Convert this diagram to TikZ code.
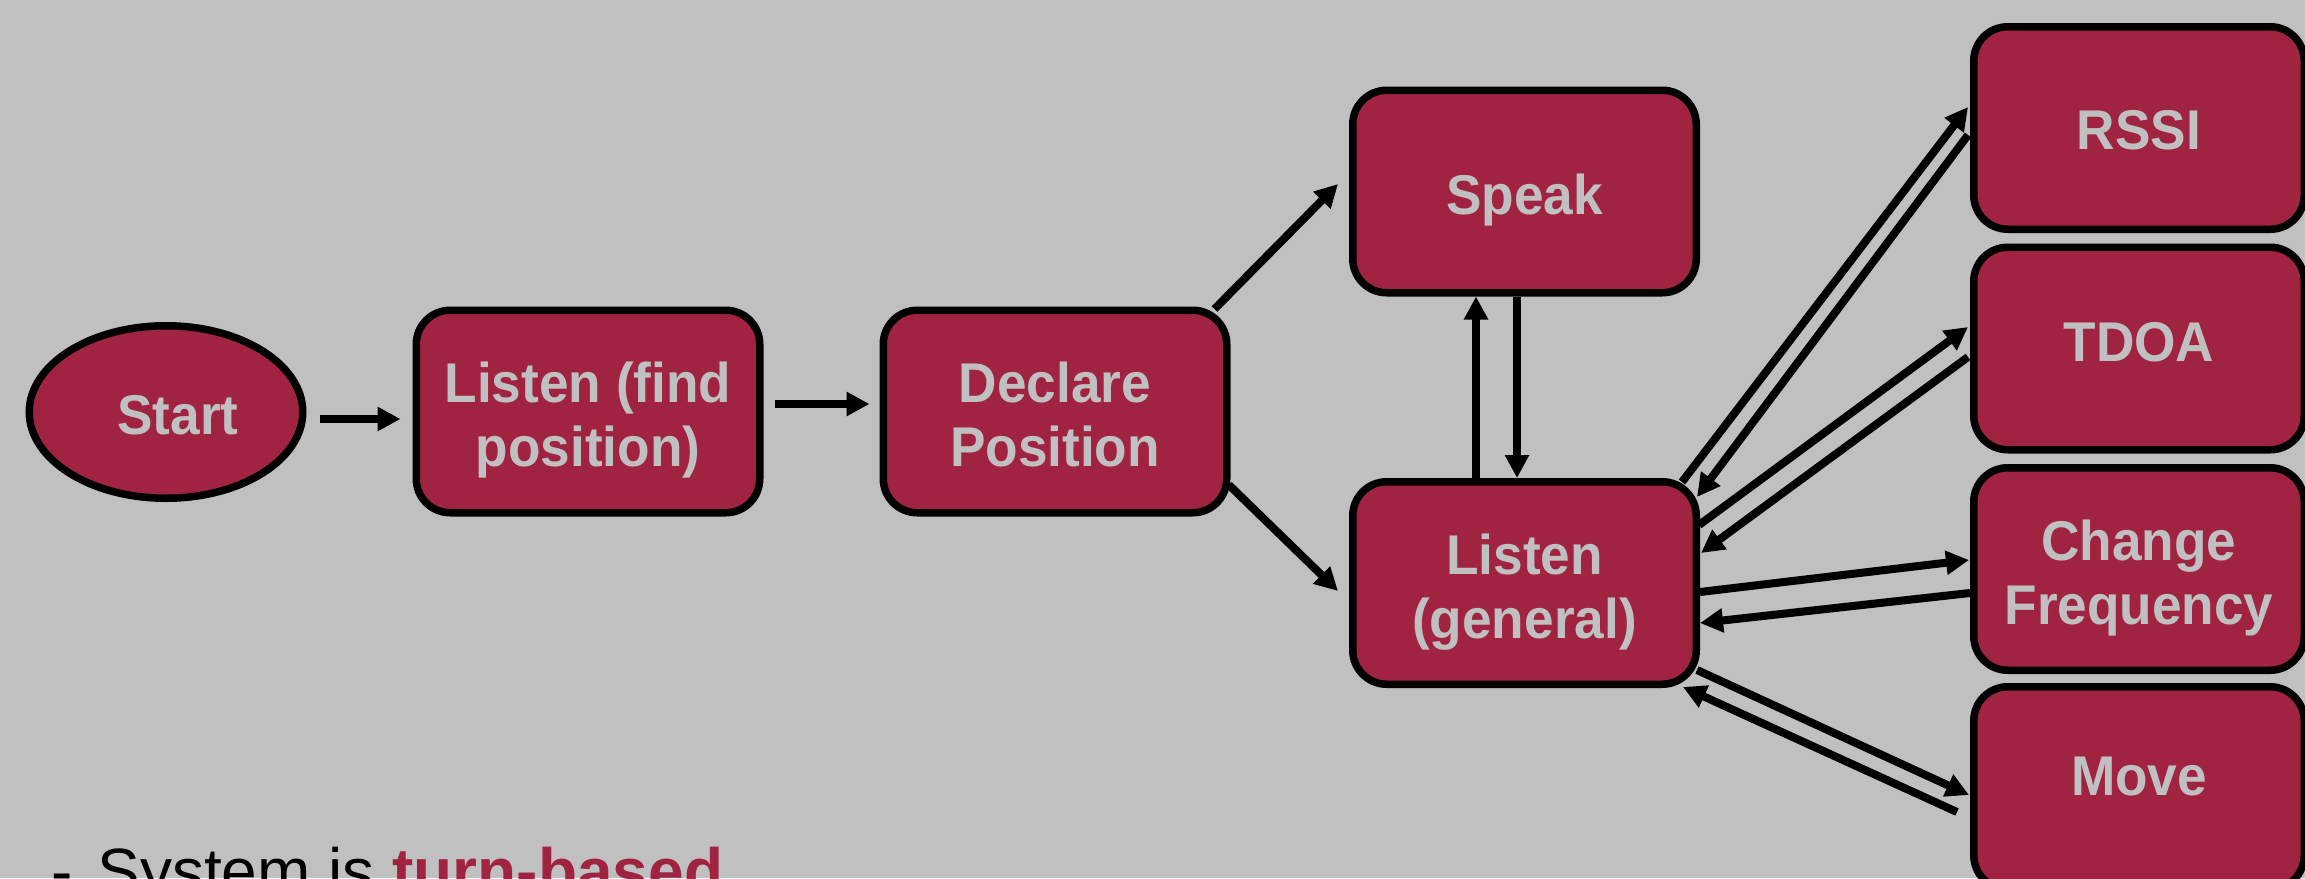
\documentclass[tikz,border=0pt]{standalone}
\usepackage{fontspec}
\setmainfont{Liberation Sans}
\newfontfamily\boxfont{Liberation Sans}[FakeStretch=0.95]
\usetikzlibrary{arrows.meta,shapes.geometric}
\definecolor{bggray}{HTML}{C0C0C0}
\definecolor{crimson}{HTML}{A02442}
\newcommand{\firstline}{\rule{0pt}{29.14pt}}
\begin{document}
\begin{tikzpicture}[x=0.5pt,y=-0.5pt,
  box/.style={draw=black, line width=3.75pt, fill=crimson, rounded corners=17pt,
    minimum width=171.75pt, minimum height=101.25pt, inner sep=0pt, align=center,
    text=bggray, font=\boxfont\bfseries\fontsize{28}{32}\selectfont,
    execute at begin node={\rule{0pt}{25.34pt}},
    execute at end node={\rule[-5.94pt]{0pt}{5.94pt}}},
  sink/.style={execute at begin node={\rule{0pt}{#1}}},
  lift/.style={execute at end node={\rule[-#1]{0pt}{#1}}},
  rbox/.style={box, minimum width=165.25pt},
  oval/.style={box, ellipse, sharp corners, minimum width=136.75pt, minimum height=86.25pt},
  arr/.style={line width=4pt, -{Triangle[length=11.5pt,width=11.5pt]}}]
\useasboundingbox (0,0) rectangle (2305,878);
\fill[bggray] (0,0) rectangle (2305,878);
\clip (0,0) rectangle (2305,878);

\node[oval, sink=28.34pt] (start) at (166,412) {\hspace*{12pt}Start};
\node[box] (L1) at (588,411.5) {\firstline Listen (find\\position)};
\node[box] (D) at (1055,411.5) {\firstline Declare\\Position};
\node[box, sink=28.84pt] (S) at (1524.5,191.5) {Speak};
\node[box] (L2) at (1524.5,583) {\firstline Listen\\(general)};
\node[rbox, sink=27.34pt] (R) at (2139,128) {RSSI};
\node[rbox, lift=12.44pt] (T) at (2139,348.5) {TDOA};
\node[rbox] (CF) at (2139,569) {\firstline Change\\Frequency};
\node[rbox, lift=17.44pt] (M) at (2139,788) {Move};

\draw[arr] ([xshift=6.5pt,yshift=-3.5pt]start.east) -- ([xshift=-6pt,yshift=-3.5pt]start.east -| L1.west);
\draw[arr] ([xshift=5.5pt,yshift=3.75pt]L1.east) -- ([xshift=-5pt,yshift=3.75pt]L1.east -| D.west);
\draw[arr] ([xshift=-8pt,yshift=-1.25pt]D.north east) -- ([xshift=-5.5pt,yshift=3.75pt]S.west);
\draw[arr] ([xshift=-0.75pt,yshift=15.75pt]D.south east) -- ([xshift=-5.5pt,yshift=-4pt]L2.west);
\draw[arr] ([xshift=-24.25pt]L2.north) -- ([xshift=-24.25pt]S.south);
\draw[arr] ([xshift=-3.75pt]S.south) -- ([xshift=-3.75pt]L2.north);
\draw[arr] ([xshift=-9pt,yshift=-2pt]L2.north east) -- ([xshift=-1pt,yshift=10.5pt]R.west);
\draw[arr] ([xshift=-1pt,yshift=-3.5pt]R.west) -- ([xshift=-1.5pt,yshift=-9.5pt]L2.north east);
\draw[arr] ([xshift=-0.5pt,yshift=29pt]L2.east) -- ([xshift=-1pt,yshift=10.75pt]T.west);
\draw[arr] ([xshift=-1pt,yshift=-4.25pt]T.west) -- ([xshift=0.5pt,yshift=15pt]L2.east);
\draw[arr] ([yshift=-4.5pt]L2.east) -- ([xshift=-0.5pt,yshift=4.5pt]CF.west);
\draw[arr] ([yshift=-12pt]CF.west) -- ([yshift=-20pt]L2.east);
\draw[arr] ([xshift=-1.5pt,yshift=-43.5pt]L2.east) -- ([xshift=-0.5pt,yshift=-3.5pt]M.west);
\draw[arr] ([xshift=-6.5pt,yshift=-12pt]M.west) -- ([xshift=-8.5pt,yshift=0.5pt]L2.south east);

\node[anchor=base west, inner sep=0pt, font=\fontsize{32}{38}\selectfont] (dash) at (51,893) {-};
\node[anchor=base west, inner sep=0pt, font=\fontsize{32}{38}\selectfont] (note) at (97,893)
  {System is \textcolor{crimson}{\bfseries turn-based}};
\end{tikzpicture}
\end{document}
